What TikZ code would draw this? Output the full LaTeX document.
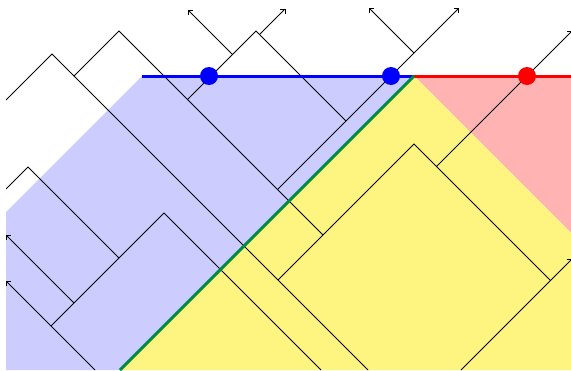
\documentclass[tikz,border=0pt]{standalone}
\usetikzlibrary{arrows.meta}
\definecolor{bluefill}{RGB}{204,204,255}
\definecolor{redfill}{RGB}{255,179,179}
\definecolor{yellowfill}{RGB}{254,245,128}
\definecolor{edgegreen}{RGB}{0,138,72}
\tikzset{
  wl/.style={line width=0.9pt, black},
  wlarrow/.style={wl, -{Straight Barb[length=3.5pt,width=7pt]}},
  thickline/.style={line width=3pt},
  dotnode/.style={circle, inner sep=0pt, minimum size=18pt}
}
\begin{document}
\begin{tikzpicture}[x=1pt,y=-1pt]
\useasboundingbox (0,0) rectangle (571,370);
\clip (6,0) rectangle (571,370);
% corner coordinates of regions
\coordinate (Bl) at (142,76);
\coordinate (Top) at (414,76);
\coordinate (Rt) at (571,76);
\coordinate (RtDiag) at (571,233);
\coordinate (RtBot) at (571,370);
\coordinate (GrBot) at (120,370);
\coordinate (LfBot) at (6,370);
\coordinate (LfDiag) at (6,212);
% fills
\fill[bluefill] (Bl) -- (Top) -- (GrBot) -- (LfBot) -- (LfDiag) -- cycle;
\fill[redfill] (Top) -- (Rt) -- (RtDiag) -- cycle;
\fill[yellowfill] (Top) -- (RtDiag) -- (RtBot) -- (GrBot) -- cycle;
% vertices
\coordinate (A0) at (6,100);
\coordinate (P1) at (52,54);
\coordinate (Bend) at (368,370);
\coordinate (Q1) at (74,76);
\coordinate (P2) at (119,31);
\coordinate (Q2) at (187.5,99.5);
\coordinate (P3) at (256,31);
\coordinate (Q3) at (232.5,54.5);
\coordinate (T3) at (187.5,9.5);
\coordinate (Q5) at (259.5,34.5);
\coordinate (T5) at (285.5,8.5);
\coordinate (Q6) at (277.5,189.5);
\coordinate (Q4) at (346,121);
\coordinate (Q7) at (414,53);
\coordinate (T7a) at (459,8);
\coordinate (T7b) at (369,8);
\coordinate (R1) at (323,235);
\coordinate (R2) at (278,280);
\coordinate (R3) at (414,144);
\coordinate (R4) at (550.5,280.5);
\coordinate (R5) at (436.5,166.5);
\coordinate (TN) at (572,31);
\coordinate (OB) at (461,370);
\coordinate (TO) at (572,259);
\coordinate (L0) at (6,189);
\coordinate (S1) at (28,167);
\coordinate (S2) at (119,258);
\coordinate (S3) at (51,326);
\coordinate (S4) at (164,213);
\coordinate (Send) at (321,370);
\coordinate (S5) at (74,303);
\coordinate (T5l) at (6,235);
\coordinate (Rend) at (95,370);
\coordinate (TR) at (6,281);
% black lines
\draw[wl] (A0) -- (P1) -- (Bend);
\draw[wl] (Q1) -- (P2) -- (R1);
\draw[wl] (Q2) -- (P3) -- (Q4);
\draw[wlarrow] (Q3) -- (T3);
\draw[wlarrow] (Q5) -- (T5);
\draw[wlarrow] (Q6) -- (T7a);
\draw[wlarrow] (Q7) -- (T7b);
\draw[wl] (R2) -- (R3) -- (R4);
\draw[wlarrow] (R5) -- (TN);
\draw[wlarrow] (OB) -- (TO);
\draw[wl] (L0) -- (S1) -- (S2);
\draw[wl] (S3) -- (S4) -- (Send);
\draw[wlarrow] (S5) -- (T5l);
\draw[wlarrow] (Rend) -- (TR);
% colored edges
\draw[thickline, blue] (Bl) -- (Top);
\draw[thickline, red] (Top) -- (Rt);
\draw[thickline, edgegreen] (Top) -- (GrBot);
% dots
\node[dotnode, fill=blue] (d1) at (209,76) {};
\node[dotnode, fill=blue] (d2) at (391,76) {};
\node[dotnode, fill=red] (d3) at (527,76) {};
\end{tikzpicture}
\end{document}
